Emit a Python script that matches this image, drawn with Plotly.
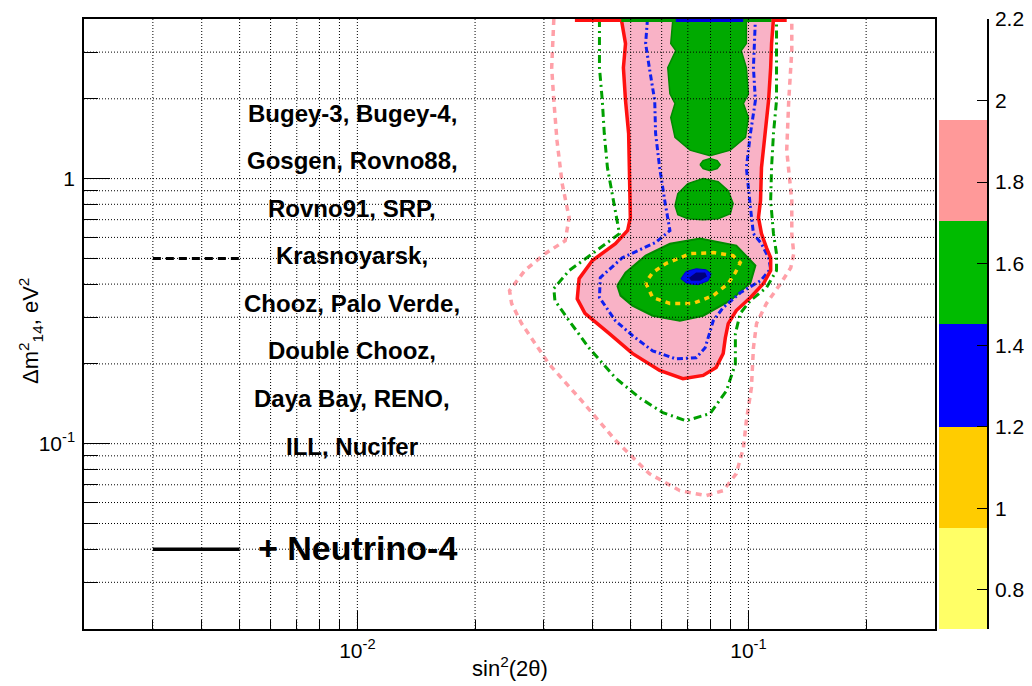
import plotly.graph_objects as go

# ---------------- axes / ticks ----------------
x_range = [0.002, 0.3]
y_range = [0.02, 4.0]
x_major = [0.01, 0.1]
x_major_text = ["10<sup>-2</sup>", "10<sup>-1</sup>"]
x_minor = [0.003, 0.004, 0.005, 0.006, 0.007, 0.008, 0.009,
           0.02, 0.03, 0.04, 0.05, 0.06, 0.07, 0.08, 0.09, 0.2]
y_major = [0.1, 1.0]
y_major_text = ["10<sup>-1</sup>", "1"]
y_minor = [0.03, 0.04, 0.05, 0.06, 0.07, 0.08, 0.09,
           0.2, 0.3, 0.4, 0.5, 0.6, 0.7, 0.8, 0.9, 2.0, 3.0]

# ---------------- colour scale (z levels) ----------------
cb_levels = [0.704, 0.952, 1.2, 1.451, 1.705, 1.952]
cb_colors = ["#FFFF66", "#FFCC00", "#0000FF", "#00BB00", "#FF9999"]
cb_ticks = [0.8, 1.0, 1.2, 1.4, 1.6, 1.8, 2.0, 2.2]
cb_ticktext = ["0.8", "1", "1.2", "1.4", "1.6", "1.8", "2", "2.2"]
cb_range = [0.704, 2.2]

# ---------------- Neutrino-4 + reactor contours (sin^2 2theta, dm^2) ----------------
# outer filled region (red solid boundary)
red_x = [0.0473, 0.0485, 0.0479, 0.0485, 0.0494, 0.0497, 0.0499, 0.0499, 0.0491, 0.0457,
         0.0399, 0.0369, 0.0365, 0.0382, 0.0441, 0.0505, 0.0593, 0.0680, 0.0766, 0.0827,
         0.0862, 0.0873, 0.0888, 0.0931, 0.1012, 0.1093, 0.1140, 0.1140, 0.1112, 0.1080,
         0.1061, 0.1074, 0.1080, 0.1106, 0.1126, 0.1140, 0.1146, 0.1159]
red_y = [4.0, 3.23, 2.62, 1.97, 1.48, 1.10, 0.826, 0.713, 0.637, 0.568,
         0.491, 0.419, 0.352, 0.310, 0.260, 0.219, 0.189, 0.176, 0.181, 0.194,
         0.219, 0.251, 0.284, 0.318, 0.356, 0.402, 0.450, 0.503, 0.549, 0.620,
         0.713, 0.826, 1.10, 1.48, 1.97, 2.62, 3.23, 4.0]

# green filled islands
green_top_x = [0.0641, 0.0633, 0.0652, 0.0622, 0.0630, 0.0649, 0.0633, 0.0649, 0.0709, 0.0798,
               0.0899, 0.0983, 0.1000, 0.0971, 0.1000, 0.0988, 0.0959, 0.0988, 0.0988]
green_top_y = [4.0, 3.23, 3.04, 2.62, 2.09, 1.92, 1.70, 1.43, 1.28, 1.22,
               1.28, 1.43, 1.70, 1.92, 2.09, 2.62, 3.04, 3.23, 4.0]
green_small_x = [0.0752, 0.0766, 0.0798, 0.0832, 0.0847, 0.0832, 0.0798, 0.0766]
green_small_y = [1.129, 1.17, 1.19, 1.17, 1.129, 1.091, 1.072, 1.091]
green_mid_x = [0.0649, 0.0660, 0.0700, 0.0766, 0.0837, 0.0888, 0.0914, 0.0899,
               0.0837, 0.0766, 0.0700, 0.0660]
green_mid_y = [0.791, 0.878, 0.957, 1.0, 0.974, 0.901, 0.805, 0.738,
               0.706, 0.700, 0.706, 0.731]
green_big_x = [0.0462, 0.0485, 0.0546, 0.0630, 0.0752, 0.0931, 0.1042, 0.1012,
               0.0899, 0.0766, 0.0668, 0.0569, 0.0505, 0.0471]
green_big_y = [0.395, 0.442, 0.512, 0.568, 0.594, 0.559, 0.470, 0.405,
               0.347, 0.304, 0.291, 0.304, 0.332, 0.362]

# best-fit blue island and its core
blue_x = [0.0672, 0.0692, 0.0735, 0.0779, 0.0803, 0.0789, 0.0743, 0.0696]
blue_y = [0.419, 0.446, 0.457, 0.453, 0.438, 0.412, 0.398, 0.402]
core_x = [0.0705, 0.0735, 0.0775, 0.0784, 0.0752, 0.0713]
core_y = [0.423, 0.442, 0.442, 0.427, 0.412, 0.412]

# yellow dashed contour
yellow_x = [0.0546, 0.0569, 0.0630, 0.0721, 0.0813, 0.0888, 0.0926, 0.0953,
            0.0914, 0.0813, 0.0709, 0.0615, 0.0569, 0.0546]
yellow_y = [0.405, 0.356, 0.338, 0.338, 0.362, 0.402, 0.442, 0.482,
            0.512, 0.526, 0.521, 0.478, 0.442, 0.405]

# blue dash-dot contour
bdash_x = [0.0552, 0.0546, 0.0558, 0.0576, 0.0579, 0.0593, 0.0611, 0.0630, 0.0579, 0.0476,
           0.0418, 0.0416, 0.0457, 0.0505, 0.0569, 0.0652, 0.0735, 0.0775, 0.0813, 0.0862,
           0.0953, 0.1074, 0.1140, 0.1126, 0.1080, 0.1030, 0.1012, 0.0988, 0.1012, 0.1042,
           0.1030, 0.1042]
bdash_y = [4.0, 3.23, 2.62, 1.97, 1.48, 1.10, 0.826, 0.637, 0.574, 0.503,
           0.423, 0.356, 0.291, 0.256, 0.224, 0.209, 0.211, 0.230, 0.291, 0.326,
           0.371, 0.412, 0.457, 0.503, 0.568, 0.620, 0.777, 1.10, 1.48, 1.97,
           2.62, 4.0]

# green dash-dot contour
gdash_x = [0.0416, 0.0416, 0.0423, 0.0428, 0.0436, 0.0454, 0.0468, 0.0399, 0.0348, 0.0318,
           0.0320, 0.0348, 0.0391, 0.0457, 0.0527, 0.0604, 0.0692, 0.0798, 0.0878, 0.0926,
           0.0926, 0.0953, 0.1012, 0.1112, 0.1180, 0.1180, 0.1159, 0.1140, 0.1146, 0.1159,
           0.1180, 0.1180]
gdash_y = [4.0, 2.62, 1.97, 1.48, 1.10, 0.777, 0.620, 0.521, 0.450, 0.385,
           0.347, 0.291, 0.230, 0.177, 0.149, 0.131, 0.122, 0.130, 0.158, 0.200,
           0.260, 0.310, 0.347, 0.388, 0.450, 0.521, 0.620, 0.826, 1.10, 1.48,
           1.97, 4.0]

# light pink dashed contour
pdash_x = [0.0318, 0.0314, 0.0318, 0.0324, 0.0334, 0.0348, 0.0340, 0.0302, 0.0268, 0.0245,
           0.0248, 0.0263, 0.0309, 0.0375, 0.0457, 0.0558, 0.0668, 0.0779, 0.0862, 0.0931,
           0.0971, 0.0988, 0.1018, 0.1030, 0.1049, 0.1112, 0.1209, 0.1283, 0.1306, 0.1291,
           0.1291, 0.1253, 0.1268, 0.1291, 0.1291]
pdash_y = [4.0, 2.62, 1.97, 1.39, 0.957, 0.713, 0.583, 0.521, 0.450, 0.378,
           0.338, 0.284, 0.200, 0.145, 0.103, 0.0771, 0.0665, 0.0637, 0.0665, 0.0771,
           0.0966, 0.122, 0.163, 0.230, 0.284, 0.338, 0.402, 0.461, 0.521, 0.620,
           0.826, 1.28, 1.97, 3.04, 4.0]

# contour pieces lying on the upper edge of the frame
top_edge_x = [0.0360, 0.0473, 0.0652, 0.0971, 0.1146, 0.1253]
top_edge_colors = ["#FF1010", "#009900", "#0000DD", "#009900", "#FF1010"]

# ---------------- legend texts ----------------
legend_lines = ["Bugey-3, Bugey-4,", "Gosgen, Rovno88,", "Rovno91, SRP,", "Krasnoyarsk,",
                "Chooz, Palo Verde,", "Double Chooz,", "Daya Bay, RENO,", "ILL, Nucifer"]
legend_main = "+ Neutrino-4"

FONT = "Liberation Sans"
W, H = 1032, 686
fig = go.Figure()

def poly(x, y, fill, line_color=None, lw=0, dash=None, close=True):
    xs, ys = list(x), list(y)
    if close:
        xs.append(xs[0]); ys.append(ys[0])
    fig.add_trace(go.Scatter(
        x=xs, y=ys, mode="lines",
        fill="toself" if fill else None, fillcolor=fill,
        line=dict(color=line_color or "rgba(0,0,0,0)", width=lw, dash=dash),
        hoverinfo="skip", showlegend=False))

# filled areas
poly(red_x, red_y, "#F9B2C6")
poly(green_top_x, green_top_y, "#00AA00", "#008A00", 1.5)
poly(green_small_x, green_small_y, "#00AA00", "#008A00", 1.5)
poly(green_mid_x, green_mid_y, "#00AA00", "#008A00", 1.5)
poly(green_big_x, green_big_y, "#00AA00", "#008A00", 2)
poly(blue_x, blue_y, "#0010EE", "#0000CC", 1)
poly(core_x, core_y, "#00007A")
# dashed contours
poly(yellow_x, yellow_y, None, "#FFCC00", 3.5, "5px,5px", close=False)
poly(bdash_x, bdash_y, None, "#1020F0", 3, "6px,3px,2px,3px", close=False)
poly(gdash_x, gdash_y, None, "#00A000", 3, "8px,4px,2px,4px", close=False)
poly(pdash_x, pdash_y, None, "#FFA0A8", 3.5, "6px,5px", close=False)
# red solid boundary
poly(red_x, red_y, None, "#FF1010", 3.5, None, close=False)

# pieces on the upper frame edge
for i, c in enumerate(top_edge_colors):
    fig.add_trace(go.Scatter(x=top_edge_x[i:i + 2], y=[y_range[1]] * 2, mode="lines",
                             line=dict(color=c, width=6), hoverinfo="skip", showlegend=False))

# colour scale boxes
fig.add_trace(go.Bar(
    x=[0.5] * len(cb_colors), y=[cb_levels[i + 1] - cb_levels[i] for i in range(len(cb_colors))],
    base=cb_levels[:-1], width=1, marker=dict(color=cb_colors, line=dict(width=0)),
    xaxis="x2", yaxis="y2", hoverinfo="skip", showlegend=False))

# grid drawn on top of the contours (as in the original)
shapes = []
grid_line = dict(color="black", width=1, dash="1px,2px")
for v in x_major + x_minor:
    shapes.append(dict(type="line", xref="x", yref="y domain", x0=v, x1=v, y0=0, y1=1,
                       line=grid_line, layer="above"))
for v in y_major + y_minor:
    shapes.append(dict(type="line", xref="x domain", yref="y", x0=0, x1=1, y0=v, y1=v,
                       line=grid_line, layer="above"))
# legend line samples
shapes.append(dict(type="line", xref="x", yref="y", x0=0.003, x1=0.005, y0=0.5, y1=0.5,
                   line=dict(color="black", width=3, dash="8px,5px"), layer="above"))
shapes.append(dict(type="line", xref="x", yref="y", x0=0.003, x1=0.005, y0=0.04, y1=0.04,
                   line=dict(color="black", width=3.5), layer="above"))

annotations = []
for i, t in enumerate(legend_lines):
    py = 113 + i * 47.6
    annotations.append(dict(text="<b>%s</b>" % t, x=352 / W, y=1 - py / H, xref="paper", yref="paper",
                            showarrow=False, xanchor="center", yanchor="middle",
                            font=dict(family=FONT, size=24, color="black")))
annotations.append(dict(text="<b>%s</b>" % legend_main, x=357 / W, y=1 - 548 / H, xref="paper",
                        yref="paper", showarrow=False, xanchor="center", yanchor="middle",
                        font=dict(family=FONT, size=34, color="black")))
annotations.append(dict(text="sin<sup>2</sup>(2θ)", x=510 / W, y=1 - 667 / H, xref="paper",
                        yref="paper", showarrow=False, xanchor="center", yanchor="middle",
                        font=dict(family=FONT, size=22, color="black")))
annotations.append(dict(text="Δm<sup>2</sup><sub>14</sub>, eV<sup>2</sup>", x=30 / W, y=1 - 331 / H,
                        xref="paper", yref="paper", showarrow=False, textangle=-90,
                        xanchor="center", yanchor="middle",
                        font=dict(family=FONT, size=22, color="black")))

ax_common = dict(showgrid=False, zeroline=False, showline=True, linecolor="black", linewidth=1.5,
                 mirror=True, ticks="inside", tickcolor="black", tickwidth=1, automargin=False,
                 tickfont=dict(family=FONT, size=21, color="black"), type="log")

fig.update_layout(
    width=W, height=H, margin=dict(l=0, r=0, t=0, b=0, pad=0, autoexpand=False),
    paper_bgcolor="white", plot_bgcolor="white", showlegend=False,
    xaxis=dict(ax_common, domain=[84 / W, 935 / W],
               range=[-2.69897, -0.52288], tickmode="array", tickvals=x_major,
               ticktext=x_major_text, ticklen=18, ticklabelstandoff=2,
               minor=dict(tickmode="array", tickvals=x_minor, ticks="inside", ticklen=9,
                          tickcolor="black", tickwidth=1, showgrid=False)),
    yaxis=dict(ax_common, domain=[1 - 629 / H, 1 - 19 / H],
               range=[-1.69897, 0.60206], tickmode="array", tickvals=y_major,
               ticktext=y_major_text, ticklen=26, ticklabelstandoff=3,
               minor=dict(tickmode="array", tickvals=y_minor, ticks="inside", ticklen=14,
                          tickcolor="black", tickwidth=1, showgrid=False)),
    xaxis2=dict(domain=[939 / W, 987 / W], range=[0, 1], visible=False, anchor="y2",
                automargin=False),
    yaxis2=dict(domain=[1 - 629 / H, 1 - 19 / H], anchor="x2", side="right", range=cb_range,
                showgrid=False, zeroline=False, showline=True, linecolor="black", linewidth=1.5,
                ticks="inside", ticklen=10, tickcolor="black", tickmode="array", automargin=False,
                tickvals=cb_ticks, ticktext=cb_ticktext, ticklabelstandoff=2,
                tickfont=dict(family=FONT, size=21, color="black")),
    bargap=0, shapes=shapes, annotations=annotations,
)

fig.write_html("out.html", config={"displayModeBar": False},
               post_script="document.body.style.margin='0';document.body.style.overflow='hidden';")
